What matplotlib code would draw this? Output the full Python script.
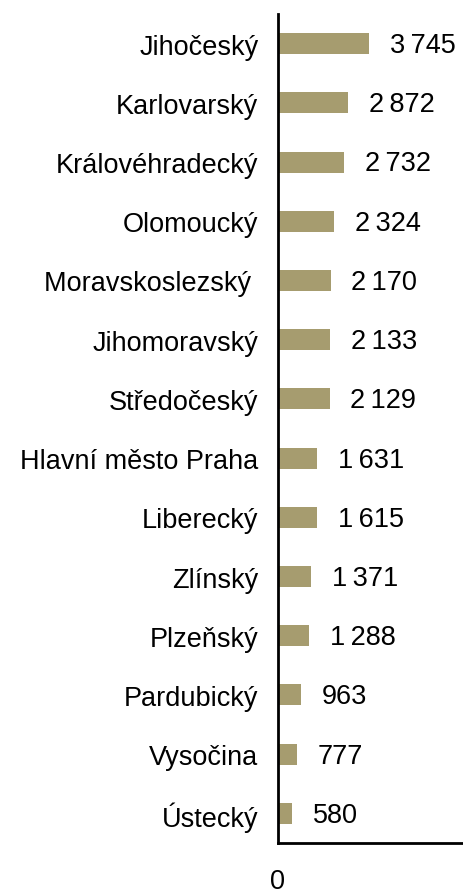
import matplotlib
matplotlib.use("Agg")
import matplotlib.pyplot as plt

plt.rcParams["font.family"] = ["Liberation Sans", "DejaVu Sans"]

# Kraje, seřazené shora dolů
REGIONS = [
    "Jihočeský", "Karlovarský", "Královéhradecký", "Olomoucký",
    "Moravskoslezský ", "Jihomoravský", "Středočeský", "Hlavní město Praha",
    "Liberecký", "Zlínský", "Plzeňský", "Pardubický", "Vysočina", "Ústecký",
]
VALUES = [3745, 2872, 2732, 2324, 2170, 2133, 2129, 1631, 1615, 1371, 1288, 963, 777, 580]
X_TICKS = [0]
X_MAX = 7600

BAR_COLOR = "#A69C6F"
FS = 19.5


def fmt(v: int) -> str:
    # mezera jako oddělovač tisíců
    return f"{v:,}".replace(",", "\u2009")


def main():
    fig = plt.figure(figsize=(4.63, 8.95), dpi=100)
    ax = fig.add_axes([0.5998, 0.057, 0.4002, 0.9262])

    pos = list(range(len(REGIONS)))
    ax.barh(pos, VALUES, height=0.355, color=BAR_COLOR, zorder=2)

    for y, v in zip(pos, VALUES):
        ax.annotate(fmt(v), (v, y), textcoords="offset points", xytext=(15, -1),
                    ha="left", va="center", fontsize=FS, color="black")

    ax.set_ylim(len(REGIONS) - 0.5, -0.5)
    ax.set_xlim(0, X_MAX)
    ax.set_yticks(pos)
    ax.set_yticklabels(REGIONS, fontsize=FS)
    ax.set_xticks(X_TICKS)
    ax.set_xticklabels([str(t) for t in X_TICKS], fontsize=FS)
    ax.tick_params(axis="y", length=0, pad=14)
    ax.tick_params(axis="x", length=0, pad=18)

    for side in ("top", "right"):
        ax.spines[side].set_visible(False)
    for side in ("left", "bottom"):
        ax.spines[side].set_linewidth(2.0)
        ax.spines[side].set_color("black")
        ax.spines[side].set_zorder(3)

    fig.savefig("out.png", dpi=100)
    plt.close(fig)


if __name__ == "__main__":
    main()
